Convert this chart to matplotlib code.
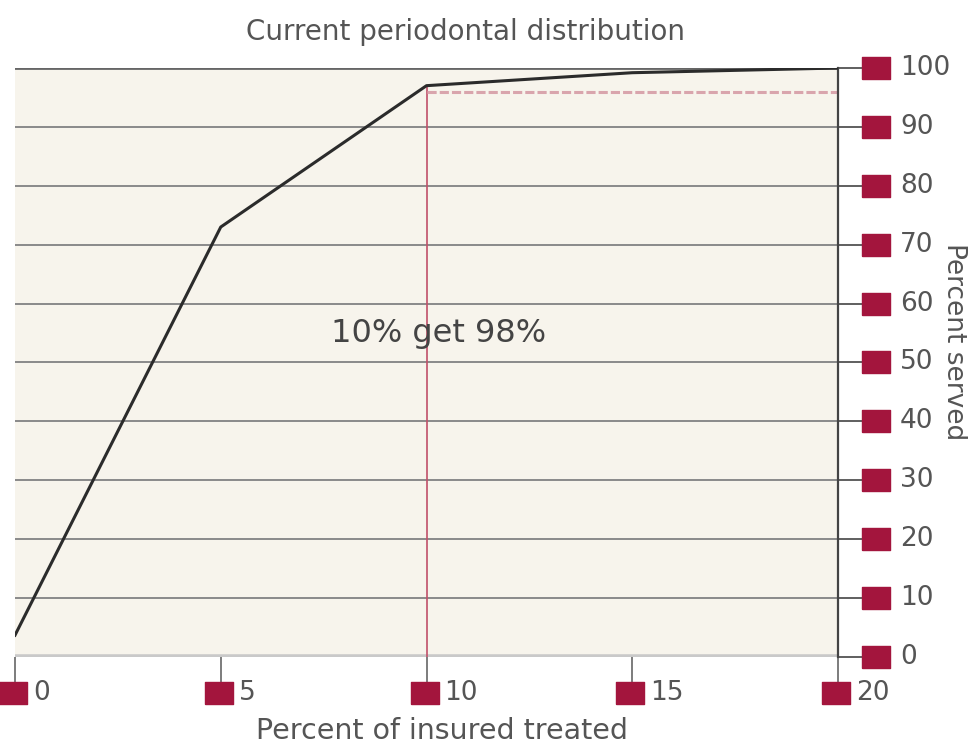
import matplotlib
matplotlib.use("Agg")
import matplotlib.pyplot as plt
from matplotlib.transforms import offset_copy

# Data
pct_treated = [0, 5, 10, 15, 20]
pct_served = [3.7, 73, 97, 99.2, 100]
x_ticks = [0, 5, 10, 15, 20]
y_ticks = [0, 10, 20, 30, 40, 50, 60, 70, 80, 90, 100]
marker_x = 10
marker_y = 96
title = "Current periodontal distribution"
xlabel = "Percent of insured treated"
ylabel = "Percent served"
annotation = "10% get 98%"

plt.rcParams['font.family'] = ['DejaVu Sans']
red = '#a3153d'
txt = '#555555'
rect = [(-1.25, -1), (1.25, -1), (1.25, 1), (-1.25, 1), (-1.25, -1)]

fig = plt.figure(figsize=(9.71, 7.48), dpi=100)
ax = fig.add_axes([15/971, 1-657/748, (838-15)/971, (657-68)/748])
ax.set_facecolor('#f7f4ec')
ax.set_xlim(0, 20)
ax.set_ylim(0, 100)

# grid
for yv in y_ticks[1:]:
    ax.axhline(yv, color='#8a8a8a' if yv < 100 else '#666666', lw=1.4 if yv < 100 else 2.0, zorder=1)
ax.axhline(0, color='#c9c9c9', lw=4, zorder=1)

# red guide lines
ax.plot([marker_x, marker_x], [0, 97], color='#c0506a', lw=1.2, zorder=2)
ax.plot([marker_x, 20], [marker_y, marker_y], color='#d9a5ad', lw=2.2, ls=(0, (3, 1)), zorder=2)

# curve
ax.plot(pct_treated, pct_served, color='#2b2b2b', lw=2.2, zorder=3)

for s in ['left', 'top', 'bottom']:
    ax.spines[s].set_visible(False)
ax.spines['right'].set_color('#444444')
ax.spines['right'].set_linewidth(1.6)

ax.set_xticks(x_ticks)
ax.set_yticks(y_ticks)
ax.tick_params(axis='x', length=20, width=1.2, color='#666666', labelbottom=False)
ax.tick_params(axis='y', left=False, right=True, length=24, width=1.2, color='#444444',
               labelleft=False, labelright=False)

# x tick markers and labels
xt = ax.get_xaxis_transform()
for xv in x_ticks:
    ax.plot([xv], [0], marker=rect, ms=20, color=red, clip_on=False, lw=0,
            transform=offset_copy(xt, fig=fig, x=-2, y=-36, units='dots'), zorder=5)
    ax.text(xv, 0, str(xv), transform=offset_copy(xt, fig=fig, x=18, y=-36, units='dots'),
            ha='left', va='center', fontsize=19, color=txt)

# y tick markers and labels
yt = ax.get_yaxis_transform()
for yv in y_ticks:
    ax.plot([1], [yv], marker=rect, ms=20, color=red, clip_on=False, lw=0,
            transform=offset_copy(yt, fig=fig, x=38, y=0, units='dots'), zorder=5)
    ax.text(1, yv, str(yv), transform=offset_copy(yt, fig=fig, x=62, y=0, units='dots'),
            ha='left', va='center', fontsize=19, color=txt)

ax.text(10.3, 55, annotation, ha='center', va='center', fontsize=23, color='#444444')

fig.text(465/971, 1-32/748, title, ha='center', va='center', fontsize=20, color=txt)
fig.text(442/971, 1-731/748, xlabel, ha='center', va='center', fontsize=20.5, color=txt)
fig.text(954/971, 1-342/748, ylabel, ha='center', va='center', fontsize=19, color=txt, rotation=270)

fig.savefig('out.png', dpi=100)
